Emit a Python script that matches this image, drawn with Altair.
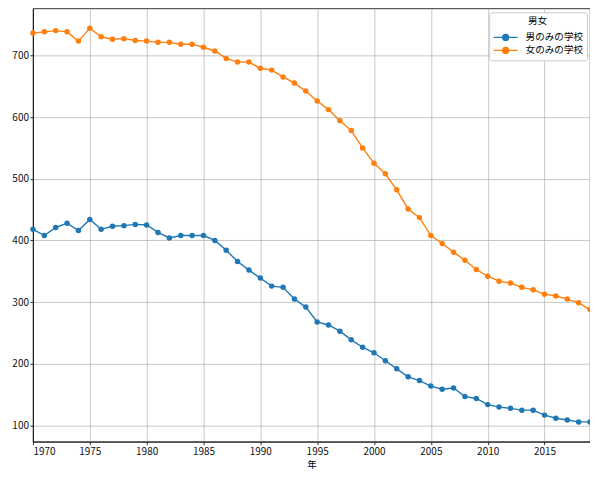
import altair as alt
import pandas as pd

years = list(range(1970, 2020))

boys_only = [418, 408, 421, 428, 416, 434, 418, 423, 424, 426,
             425, 413, 404, 408, 408, 408, 400, 384, 366, 352,
             339, 326, 324, 305, 292, 268, 263, 253, 239, 227,
             218, 205, 192, 179, 173, 164, 159, 161, 147, 144,
             134, 130, 128, 125, 125, 117, 112, 109, 106, 106]

girls_only = [736, 738, 740, 738, 723, 744, 730, 726, 727, 724,
              723, 721, 721, 718, 718, 713, 707, 695, 689, 689,
              679, 676, 665, 655, 642, 626, 612, 594, 578, 550,
              525, 508, 482, 451, 437, 408, 395, 381, 368, 353,
              342, 334, 331, 324, 320, 313, 310, 305, 299, 288]

series = ['男のみの学校', '女のみの学校']
colors = ['#1f77b4', '#ff7f0e']

df = pd.DataFrame({
    '年': years * 2,
    '学校数': boys_only + girls_only,
    '男女': [series[0]] * len(years) + [series[1]] * len(years),
})

font = 'Noto Sans CJK JP'
# line with a dot in the middle, like matplotlib's legend handle
legend_symbol = ('M-1,0H3M0.5,0a0.5,0.5 0 1,0 1,0'
                 'a0.5,0.5 0 1,0 -1,0')

x = alt.X('年:Q',
          scale=alt.Scale(domain=[1970, 2019], nice=False, zero=False),
          axis=alt.Axis(values=list(range(1970, 2020, 5)), format='d',
                        title='年', titleY=28, titleBaseline='bottom'))
y = alt.Y('学校数:Q',
          scale=alt.Scale(domain=[74, 776], nice=False, zero=False),
          axis=alt.Axis(values=list(range(100, 800, 100)), title=None))
color = alt.Color('男女:N',
                  scale=alt.Scale(domain=series, range=colors),
                  sort=series,
                  legend=alt.Legend(
                      orient='none', legendX=457, legendY=4,
                      title='男女', titleAnchor='middle',
                      titleFontWeight='normal', titleFontSize=9.6,
                      titleColor='black', labelColor='black',
                      titleFont=font, labelFont=font, labelFontSize=9.6,
                      titlePadding=5,
                      symbolType=legend_symbol, symbolSize=144,
                      symbolStrokeWidth=1.3, symbolOffset=0,
                      labelOffset=19, rowPadding=0, padding=3.5,
                      strokeColor='#cccccc', fillColor='white',
                      cornerRadius=2))

lines = alt.Chart(df).mark_line(strokeWidth=1.4).encode(
    x=x, y=y, color=color
)
points = alt.Chart(df).mark_point(filled=True, size=30, opacity=1).encode(
    x=x, y=y,
    color=alt.Color('男女:N', scale=alt.Scale(domain=series, range=colors),
                    legend=None)
)

chart = (lines + points).properties(
    width=558,
    height=434,
    autosize=alt.AutoSizeParams(type='none'),
    padding={'left': 25, 'top': 0, 'right': 0, 'bottom': 28},
).configure_view(
    stroke='black', strokeWidth=0.8
).configure_axis(
    grid=True, gridColor='#b0b0b0', gridWidth=0.7,
    domainColor='black', domainWidth=0.8,
    tickColor='black', tickSize=3, tickWidth=0.8,
    labelFont=font, labelFontSize=10, labelColor='#111111',
    labelPadding=1.5, titleFont=font, titleFontSize=9.5,
    titleColor='black', titleFontWeight='normal'
)

chart.save('out.html', embed_options={'renderer': 'svg', 'actions': False})
